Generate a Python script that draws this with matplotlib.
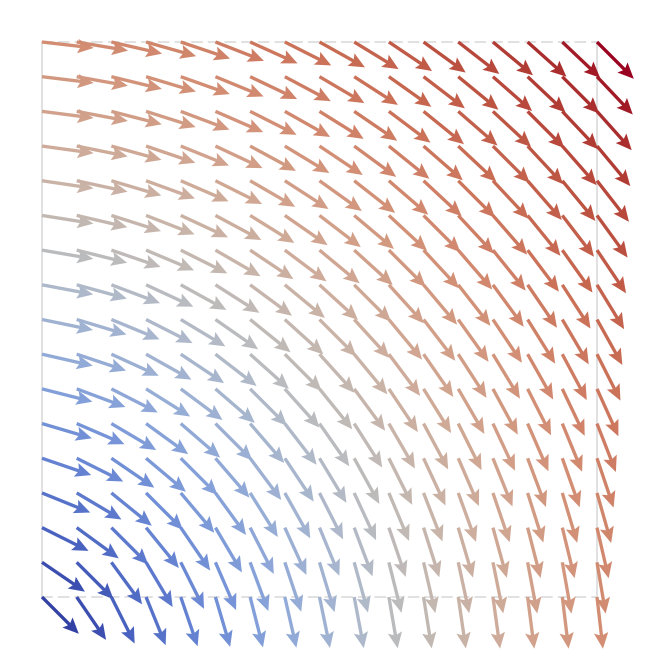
import numpy as np
import matplotlib
matplotlib.use("Agg")
import matplotlib.pyplot as plt
from matplotlib.colors import TwoSlopeNorm

# horizontal component per grid row (bottom -> top)
u_by_row = [0.13, 0.19, 0.26, 0.32, 0.38, 0.44, 0.51, 0.57, 0.63,
            0.69, 0.76, 0.82, 0.88, 0.94, 1.01, 1.07, 1.13]
# vertical component per grid column (left -> right)
v_by_col = [-0.13, -0.19, -0.26, -0.32, -0.38, -0.44, -0.51, -0.57, -0.63,
            -0.69, -0.76, -0.82, -0.88, -0.94, -1.01, -1.07, -1.13]

n = len(u_by_row)
X, Y = np.meshgrid(np.arange(n), np.arange(n))
U = np.tile(np.array(u_by_row)[:, None], (1, n))
V = np.tile(np.array(v_by_col)[None, :], (n, 1))

mag = np.hypot(U, V)
Un, Vn = U / mag, V / mag

# colour by magnitude, a bit darker to mimic the shaded glyphs
norm = TwoSlopeNorm(vmin=0.18, vcenter=0.78, vmax=1.6)
cols = plt.cm.coolwarm(norm(mag.ravel()))
cols[:, :3] *= 0.85

fig = plt.figure(figsize=(6.5, 6.5), dpi=100)
ax = fig.add_axes([42/650, 53/650, 555/650, 555/650])

ax.quiver(X, Y, Un, Vn, color=cols, angles='xy', scale_units='xy',
          scale=1/1.5, width=0.006, headwidth=4.3, headlength=4.8,
          headaxislength=4.1, clip_on=False, zorder=3)

ax.set_xlim(0, n - 1)
ax.set_ylim(0, n - 1)
ax.set_xticks([])
ax.set_yticks([])
for side in ['left', 'right', 'top', 'bottom']:
    ax.spines[side].set_color('#dcdcdc')
    ax.spines[side].set_linewidth(1.2)
ax.spines['top'].set_linestyle((0, (6, 4)))
ax.spines['bottom'].set_linestyle((0, (6, 4)))

fig.savefig('out.png', dpi=100)
